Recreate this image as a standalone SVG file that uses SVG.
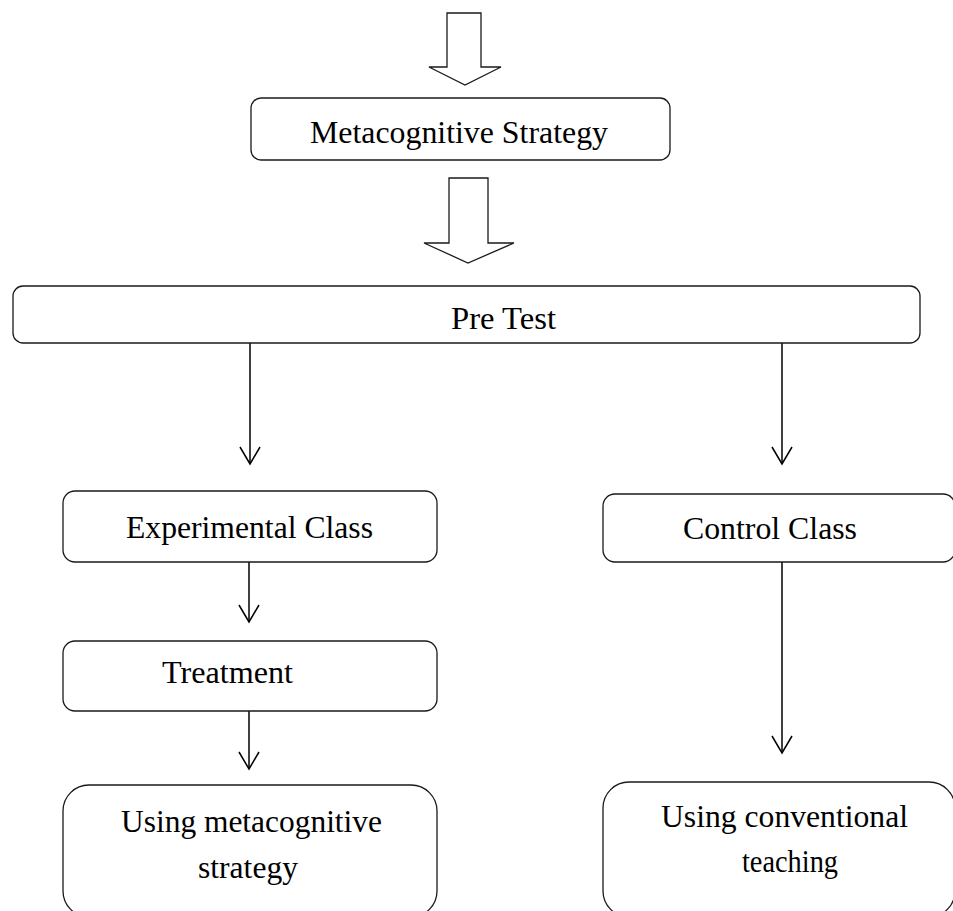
<svg xmlns="http://www.w3.org/2000/svg" width="953" height="911" viewBox="0 0 953 911">
<style>
.box{fill:#fff;stroke:#1a1a1a;stroke-width:1.3}
.t{font-family:"Liberation Serif","Times New Roman",serif;font-size:31px;fill:#000}
.con{stroke:#000;stroke-width:1.5;fill:none}
.blk{fill:#fff;stroke:#1a1a1a;stroke-width:1.3}
</style>
<rect width="953" height="911" fill="#fff"/>
<g id="connectors">
<polygon class="blk" points="447,13 481,13 481,67 501,67 465,85 429,67 447,67"/>
<polygon class="blk" points="449,178 488,178 488,243 514,243 468,263 424,243 449,243"/>
<line class="con" x1="250" y1="343" x2="250" y2="464"/>
<path class="con" d="M240,447 L250,464 L260,447"/>
<line class="con" x1="782" y1="343" x2="782" y2="464"/>
<path class="con" d="M772,447 L782,464 L792,447"/>
<line class="con" x1="249" y1="562" x2="249" y2="622"/>
<path class="con" d="M239,605 L249,622 L259,605"/>
<line class="con" x1="249" y1="711" x2="249" y2="769"/>
<path class="con" d="M239,752 L249,769 L259,752"/>
<line class="con" x1="782" y1="562" x2="782" y2="753"/>
<path class="con" d="M772,736 L782,753 L792,736"/>
</g>
<g id="metacognitive-strategy">
<rect class="box" x="251" y="98" width="419" height="62" rx="10"/>
<text class="t" x="310" y="143" textLength="298" lengthAdjust="spacingAndGlyphs">Metacognitive Strategy</text>
</g>
<g id="pre-test">
<rect class="box" x="13" y="286" width="907" height="57" rx="10"/>
<text class="t" x="451" y="329" textLength="105" lengthAdjust="spacingAndGlyphs">Pre Test</text>
</g>
<g id="experimental-class">
<rect class="box" x="63" y="491" width="374" height="71" rx="12"/>
<text class="t" x="126" y="538" textLength="247" lengthAdjust="spacingAndGlyphs">Experimental Class</text>
</g>
<g id="treatment">
<rect class="box" x="63" y="641" width="374" height="70" rx="12"/>
<text class="t" x="162" y="683" textLength="131" lengthAdjust="spacingAndGlyphs">Treatment</text>
</g>
<g id="using-metacognitive">
<rect class="box" x="63" y="785" width="374" height="132" rx="26"/>
<text class="t" x="121" y="832" textLength="261" lengthAdjust="spacingAndGlyphs">Using metacognitive</text>
<text class="t" x="198" y="878" textLength="100" lengthAdjust="spacingAndGlyphs">strategy</text>
</g>
<g id="control-class">
<rect class="box" x="603" y="494" width="352" height="68" rx="12"/>
<text class="t" x="683" y="539" textLength="174" lengthAdjust="spacingAndGlyphs">Control Class</text>
</g>
<g id="using-conventional">
<rect class="box" x="603" y="782" width="352" height="135" rx="26"/>
<text class="t" x="661" y="827" textLength="247" lengthAdjust="spacingAndGlyphs">Using conventional</text>
<text class="t" x="742" y="872" textLength="96" lengthAdjust="spacingAndGlyphs">teaching</text>
</g>
</svg>
